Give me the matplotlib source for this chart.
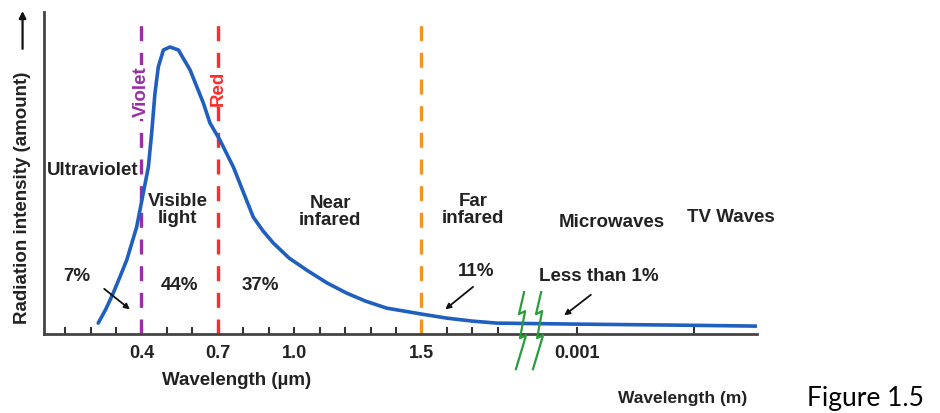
import matplotlib.pyplot as plt
from matplotlib.patches import FancyArrowPatch

# wavelength (um) and relative intensity
wavelength = [0.23, 0.26, 0.289, 0.315, 0.342, 0.381, 0.407, 0.427, 0.44, 0.453, 0.466, 0.486,
              0.512, 0.545, 0.591, 0.643, 0.669, 0.708, 0.761, 0.80, 0.839, 0.878, 0.918,
              0.98, 1.049, 1.13, 1.206, 1.28, 1.363, 1.501, 1.599, 1.70, 1.796, 2.11, 2.5, 2.817]
intensity = [11, 25, 41, 57, 74, 107, 141, 167, 201, 241, 267, 284,
             287, 284, 264, 231, 211, 194, 167, 142, 117, 103, 91,
             76, 64, 51, 41, 33, 26, 20, 16, 13, 11, 10, 9, 8]

boundaries = [0.4, 0.7, 1.5]
boundary_colors = ['#9a2ea5', '#ff2a2a', '#f7941d']

tick_pos = [0.4, 0.7, 1.0, 1.5, 2.11]
tick_labels = ['0.4', '0.7', '1.0', '1.5', '0.001']
minor_pos = [0.1, 0.2, 0.3, 0.5, 0.6, 0.8, 0.9, 1.1, 1.2, 1.3, 1.4, 1.6, 1.7, 1.8, 2.57]

regions = ['Ultraviolet', 'Visible\nlight', 'Near\ninfared', 'Far\ninfared', 'Microwaves', 'TV Waves']
region_x = [0.209, 0.543, 1.141, 1.703, 2.249, 2.717]
region_y = [164, 124, 122, 124, 112, 117]

shares = ['7%', '44%', '37%', '11%', 'Less than 1%']
share_x = [0.147, 0.551, 0.866, 1.714, 2.198]
share_y = [58, 49, 49, 63, 58]

bold = dict(family='Liberation Sans', weight='bold', fontsize=13.5, color='#222222')

fig = plt.figure(figsize=(9.4, 4.13), dpi=100)
ax = fig.add_axes([0.0468, 0.191, 0.7585, 0.78])
ax.set_xlim(0.017, 2.818)
ax.set_ylim(0, 322)

ax.plot(wavelength, intensity, color='#1f5fbf', lw=2.6, solid_capstyle='round', zorder=3)

for xb, c in zip(boundaries, boundary_colors):
    ax.vlines(xb, 0, 316, colors=c, lw=2.4, linestyles=(0, (4.5, 3.5)), zorder=2)

ax.text(0.4, 242, 'Violet', rotation=90, ha='center', va='center', color='#9a2ea5',
        family='Liberation Sans', weight='bold', fontsize=13.5,
        bbox=dict(facecolor='white', edgecolor='none', pad=1), zorder=4)
ax.text(0.7, 246, 'Red', rotation=90, ha='center', va='center', color='#ff2a2a',
        family='Liberation Sans', weight='bold', fontsize=13.5,
        bbox=dict(facecolor='white', edgecolor='none', pad=1), zorder=4)

for t, x, y in zip(regions, region_x, region_y):
    ax.text(x, y, t, ha='center', va='center', linespacing=0.95, **bold)
for t, x, y in zip(shares, share_x, share_y):
    ax.text(x, y, t, ha='center', va='center', **bold)

arrow = dict(arrowstyle='-|>', color='#111111', lw=1.3, mutation_scale=8)
ax.annotate('', xy=(0.363, 23), xytext=(0.245, 47), arrowprops=arrow)
ax.annotate('', xy=(1.585, 23), xytext=(1.711, 49), arrowprops=arrow)
ax.annotate('', xy=(2.052, 17), xytext=(2.174, 41), arrowprops=arrow)

# axis break marks
zig_x = [1.903, 1.883, 1.907, 1.887, 1.911, 1.871]
zig_y = [42, 20, 23, -4, -1, -35]
for off in [0, 0.067]:
    ax.plot([v + off for v in zig_x], zig_y, color='#2a9d3a', lw=1.6, clip_on=False, zorder=5)

for s in ['top', 'right']:
    ax.spines[s].set_visible(False)
for s in ['left', 'bottom']:
    ax.spines[s].set_color('#444444')
    ax.spines[s].set_linewidth(2)

ax.set_yticks([])
ax.set_xticks(tick_pos)
ax.set_xticklabels(tick_labels, family='Liberation Sans', weight='bold', fontsize=13, color='#222222')
ax.set_xticks(minor_pos, minor=True)
ax.tick_params(axis='x', which='both', direction='in', length=5, width=1.5, color='#333333', pad=8)

fig.text(0.252, 0.078, 'Wavelength (\u00b5m)', ha='center', va='center', **bold)
fig.text(0.726, 0.036, 'Wavelength (m)', ha='center', va='center',
         family='Liberation Sans', weight='bold', fontsize=12.5, color='#222222')
fig.text(0.921, 0.036, 'Figure 1.5', ha='center', va='center', family='Lato', fontsize=19, color='black')

fig.text(0.024, 0.52, 'Radiation intensity (amount)', rotation=90, ha='center', va='center', **bold)
fig.patches.append(FancyArrowPatch(
    (0.024, 0.875), (0.024, 0.98), transform=fig.transFigure, arrowstyle='-|>',
    mutation_scale=10, lw=1.6, color='#111111'))

fig.savefig('out.png', dpi=100)
